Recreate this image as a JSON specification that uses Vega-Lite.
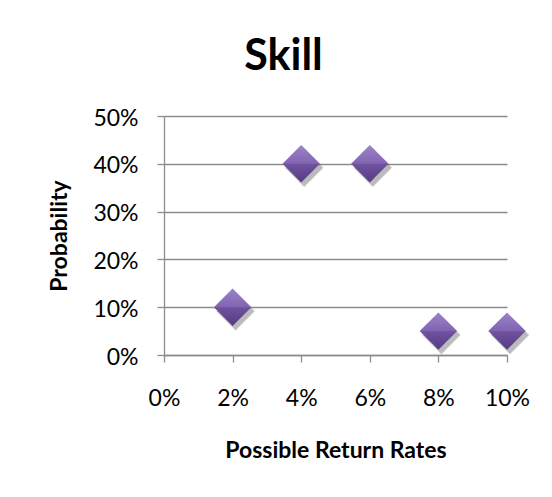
{
  "$schema": "https://vega.github.io/schema/vega-lite/v6.json",
  "width": 343,
  "height": 239,
  "autosize": {"type": "none"},
  "padding": {"left": 164, "top": 116, "right": 45, "bottom": 142},
  "background": "white",
  "title": {
    "text": "Skill",
    "font": "Lato",
    "fontSize": 43,
    "fontWeight": "bold",
    "color": "#000000",
    "anchor": "middle",
    "frame": "group",
    "dx": -52,
    "dy": 43,
    "baseline": "alphabetic",
    "offset": 37
  },
  "data": {
    "values": [
      {"rate": 0.02, "probability": 0.10},
      {"rate": 0.04, "probability": 0.40},
      {"rate": 0.06, "probability": 0.40},
      {"rate": 0.08, "probability": 0.05},
      {"rate": 0.10, "probability": 0.05}
    ]
  },
  "encoding": {
    "x": {
      "field": "rate",
      "type": "quantitative",
      "scale": {"domain": [0, 0.1], "nice": false, "zero": true},
      "axis": {
        "title": "Possible Return Rates",
        "values": [0, 0.02, 0.04, 0.06, 0.08, 0.1],
        "format": ".0%",
        "grid": false,
        "domainColor": "#8c8c8c",
        "domainWidth": 1.3,
        "tickColor": "#8c8c8c",
        "tickWidth": 1.3,
        "tickSize": 7,
        "labelFont": "Lato",
        "labelFontSize": 23,
        "labelColor": "#000000",
        "labelPadding": 25,
        "labelBaseline": "top",
        "labelFlush": false,
        "titleFont": "Lato",
        "titleFontSize": 23,
        "titleFontWeight": "bold",
        "titleColor": "#000000",
        "titlePadding": 29
      }
    },
    "y": {
      "field": "probability",
      "type": "quantitative",
      "scale": {"domain": [0, 0.5], "nice": false},
      "axis": {
        "title": "Probability",
        "values": [0, 0.1, 0.2, 0.3, 0.4, 0.5],
        "format": ".0%",
        "grid": true,
        "gridColor": "#8c8c8c",
        "gridWidth": 1.3,
        "domainColor": "#8c8c8c",
        "domainWidth": 1.3,
        "tickColor": "#8c8c8c",
        "tickWidth": 1.3,
        "tickSize": 7,
        "labelFont": "Lato",
        "labelFontSize": 23,
        "labelColor": "#000000",
        "labelPadding": 19,
        "labelOffset": 2,
        "labelFlush": false,
        "titleFont": "Lato",
        "titleFontSize": 23,
        "titleFontWeight": "bold",
        "titleColor": "#000000",
        "titlePadding": 21
      }
    }
  },
  "layer": [
    {
      "mark": {
        "type": "point",
        "shape": "diamond",
        "filled": true,
        "size": 1550,
        "color": "#000000",
        "opacity": 0.1,
        "xOffset": 3,
        "yOffset": 4,
        "clip": false
      }
    },
    {
      "mark": {
        "type": "point",
        "shape": "diamond",
        "filled": true,
        "size": 1400,
        "color": "#000000",
        "opacity": 0.18,
        "xOffset": 3,
        "yOffset": 4,
        "clip": false
      }
    },
    {
      "mark": {
        "type": "point",
        "shape": "diamond",
        "filled": true,
        "size": 1400,
        "opacity": 1,
        "strokeWidth": 0,
        "clip": false,
        "fill": {
          "gradient": "linear",
          "x1": 0, "y1": 0, "x2": 0, "y2": 1,
          "stops": [
            {"offset": 0, "color": "#9c83c9"},
            {"offset": 0.48, "color": "#8265b3"},
            {"offset": 0.52, "color": "#6f519e"},
            {"offset": 1, "color": "#573b84"}
          ]
        }
      }
    }
  ],
  "config": {
    "view": {"stroke": null}
  }
}
